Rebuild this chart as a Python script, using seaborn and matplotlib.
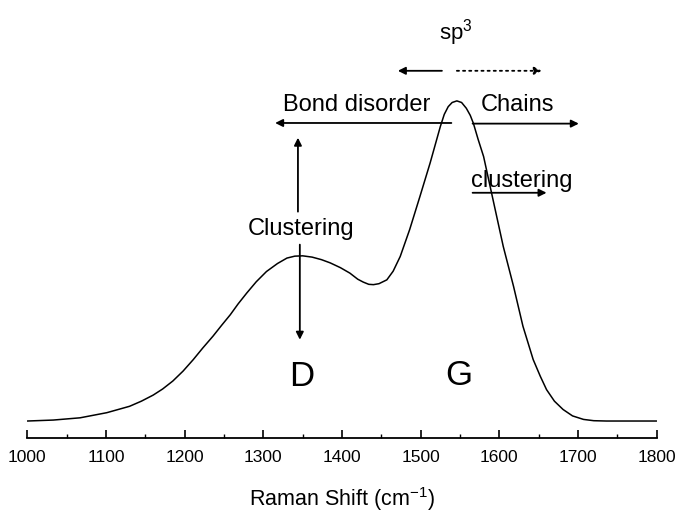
import matplotlib
matplotlib.use("Agg")
import matplotlib.pyplot as plt
from matplotlib.ticker import MultipleLocator
import seaborn as sns

# Raman shift (cm^-1) and normalized intensity
raman_shift = [1000, 1033, 1067, 1101, 1130, 1145, 1160, 1172, 1185, 1198, 1211,
               1223, 1236, 1247, 1258, 1268, 1279, 1291, 1304, 1318, 1330, 1340,
               1350, 1362, 1374, 1385, 1398, 1410, 1420, 1427, 1434, 1440, 1447,
               1457, 1465, 1474, 1486, 1499, 1512, 1525, 1530, 1535, 1540, 1546,
               1552, 1558, 1563, 1567, 1573, 1580, 1592, 1605, 1618, 1630, 1643,
               1652, 1660, 1670, 1681, 1693, 1707, 1720, 1736, 1800]
intensity = [0.000, 0.003, 0.010, 0.026, 0.046, 0.062, 0.081, 0.100, 0.125, 0.156,
             0.192, 0.228, 0.265, 0.299, 0.332, 0.366, 0.400, 0.435, 0.467, 0.492,
             0.509, 0.515, 0.516, 0.512, 0.504, 0.494, 0.479, 0.462, 0.443, 0.434,
             0.427, 0.426, 0.429, 0.441, 0.468, 0.514, 0.598, 0.701, 0.806, 0.920,
             0.958, 0.982, 0.995, 1.000, 0.995, 0.977, 0.955, 0.930, 0.880, 0.826,
             0.691, 0.545, 0.421, 0.296, 0.192, 0.140, 0.098, 0.062, 0.036, 0.016,
             0.005, 0.001, 0.000, 0.000]

x_ticks = [1000, 1100, 1200, 1300, 1400, 1500, 1600, 1700, 1800]
x_label = "Raman Shift (cm$^{-1}$)"
peak_labels = ["D", "G"]

sns.set_theme(style="white")
plt.rcParams["font.family"] = ["Liberation Sans", "DejaVu Sans"]
plt.rcParams["mathtext.default"] = "regular"

fig = plt.figure(figsize=(6.8, 5.13), dpi=100)
ax = fig.add_axes([27.3 / 680, 75 / 513, (656.7 - 27.3) / 680, 428 / 513])

sns.lineplot(x=raman_shift, y=intensity, ax=ax, color="black", lw=1.1)

ax.set_xlim(1000, 1800)
ax.set_ylim(-17 / 320.5, 411.5 / 320.5)
ax.set_xticks(x_ticks)
ax.set_xticklabels([str(t) for t in x_ticks])
ax.xaxis.set_minor_locator(MultipleLocator(50))
ax.set_yticks([])
ax.set_ylabel("")
for side in ["left", "right", "top"]:
    ax.spines[side].set_visible(False)
ax.spines["bottom"].set_color("black")
ax.spines["bottom"].set_linewidth(1.3)
ax.tick_params(axis="x", which="major", direction="in", length=5.8, width=1.2,
               color="black", labelsize=12.5, pad=8.5, labelcolor="black", bottom=True)
ax.tick_params(axis="x", which="minor", direction="in", length=2.9, width=1.0,
               color="black", bottom=True)
ax.set_xlabel(x_label, fontsize=15.5, labelpad=14.5, color="black")
ax.grid(False)

def arrow(x0, y0, x1, y1, ls="-"):
    ax.annotate("", xy=(x1, y1), xytext=(x0, y0),
                arrowprops=dict(arrowstyle="-|>", color="black", lw=1.3,
                                linestyle=ls, mutation_scale=11,
                                shrinkA=0, shrinkB=0))

fs = 17
# Top annotations
ax.text(1545, 1.193, "sp$^3$", ha="center", va="baseline", fontsize=16, color="black")
arrow(1527, 1.094, 1471, 1.094)
arrow(1546, 1.094, 1654, 1.094, ls=(0, (1.2, 2.2)))
ax.text(1419, 0.969, "Bond disorder", ha="center", va="baseline", fontsize=fs, color="black")
ax.text(1623, 0.969, "Chains", ha="center", va="baseline", fontsize=fs, color="black")
arrow(1539, 0.931, 1315, 0.931)
arrow(1566, 0.929, 1701, 0.929)
ax.text(1629, 0.732, "clustering", ha="center", va="baseline", fontsize=fs, color="black")
arrow(1566, 0.713, 1660, 0.713)

# Vertical clustering arrows
ax.text(1348.5, 0.582, "Clustering", ha="center", va="baseline", fontsize=fs, color="black")
arrow(1344, 0.654, 1344, 0.885)
arrow(1346.4, 0.551, 1346.4, 0.254)

# Peak labels
ax.text(1348.6, 0.108, peak_labels[0], ha="center", va="baseline", fontsize=25, color="black")
ax.text(1548, 0.114, peak_labels[1], ha="center", va="baseline", fontsize=25, color="black")

fig.savefig("out.png", dpi=100, facecolor="white")
